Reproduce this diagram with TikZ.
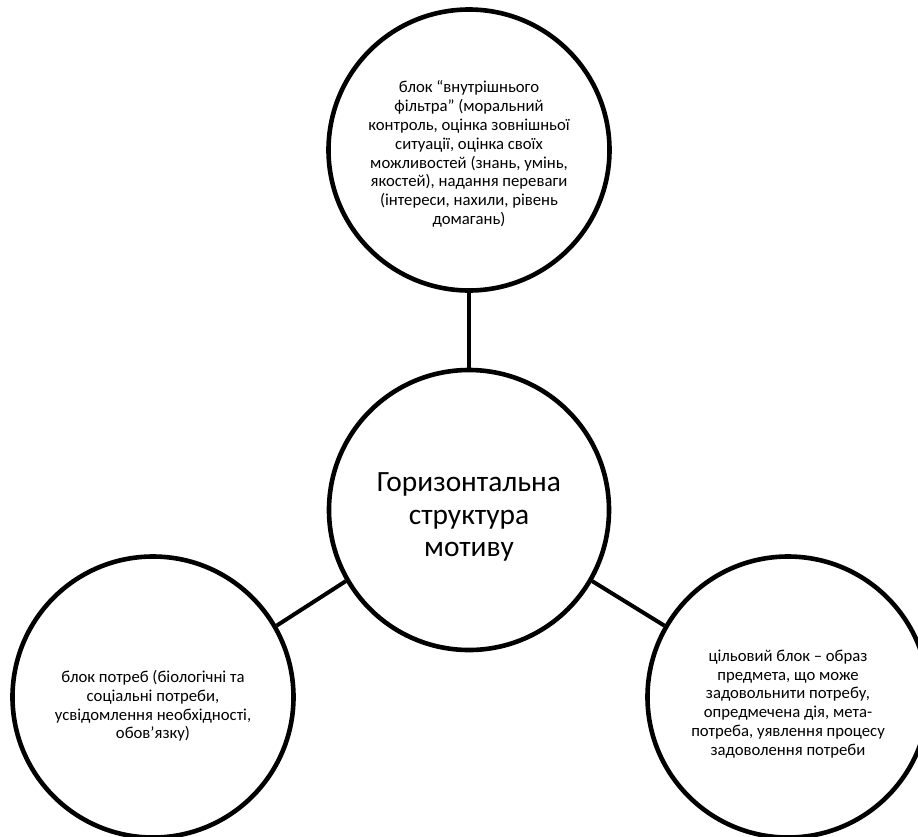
\documentclass[tikz,border=0pt]{standalone}
\usepackage{fontspec}
\setmainfont{Carlito}
\begin{document}
\begin{tikzpicture}[x=1pt,y=-1pt,
  ring/.style={circle,draw=black,line width=4.6pt,fill=white,minimum size=281pt,inner sep=0pt},
  blocktext/.style={align=center,inner sep=0pt,font=\fontsize{16.7}{18.8}\selectfont},
  maintext/.style={align=center,inner sep=0pt,font=\fontsize{29.4}{32.5}\selectfont},
  link/.style={line width=4pt}]
\useasboundingbox (0,0) rectangle (918,836);
\clip (0,0) rectangle (918,836);
\node[ring,minimum size=280pt] (m) at (469,510) {};
\node[ring] (t) at (469,150) {};
\node[ring] (l) at (153,697) {};
\node[ring] (r) at (788,697) {};
\node[maintext] (mt) at ([yshift=-7pt]m.center) {Горизонтальна\\ структура\\ мотиву};
\node[blocktext] (tt) at ([yshift=-4pt]t.center) {блок “внутрішнього\\ фільтра” (моральний\\ контроль, оцінка зовнішньої\\ ситуації, оцінка своїх\\ можливостей (знань, умінь,\\ якостей), надання переваги\\ (інтереси, нахили, рівень\\ домагань)};
\node[blocktext] (lt) at ([yshift=-9pt]l.center) {блок потреб (біологічні та\\ соціальні потреби,\\ усвідомлення необхідності,\\ обов’язку)};
\node[blocktext] (rt) at ([yshift=-7pt]r.center) {цільовий блок – образ\\ предмета, що може\\ задовольнити потребу,\\ опредмечена дія, мета-\\ потреба, уявлення процесу\\ задоволення потреби};
\draw[link] (t.south) -- (m.north);
\draw[link] (m.210) -- (l.30);
\draw[link] (m.330) -- (r.150);
\end{tikzpicture}
\end{document}
